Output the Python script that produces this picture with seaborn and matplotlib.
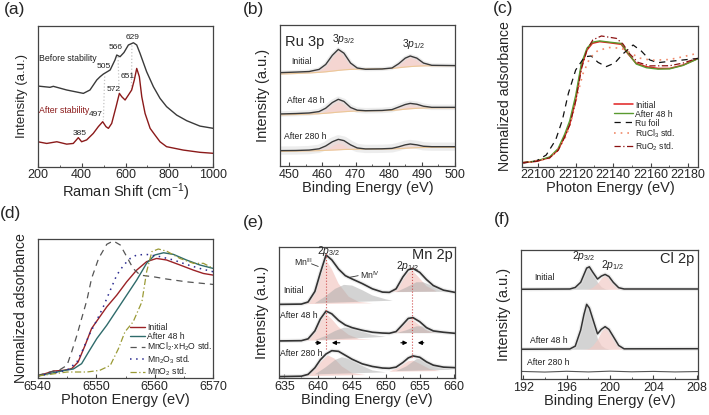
import matplotlib
matplotlib.use("Agg")
import matplotlib.pyplot as plt
from matplotlib.ticker import MultipleLocator, FormatStrFormatter
import seaborn as sns

sns.set_style("ticks")
plt.rcParams['font.family'] = ['Liberation Sans', 'DejaVu Sans']
plt.rcParams['mathtext.fontset'] = 'custom'
plt.rcParams['mathtext.rm'] = 'Liberation Sans'
plt.rcParams['mathtext.it'] = 'Liberation Sans:italic'

# ---------------- (a) Raman ----------------
a_before_x = [200, 256, 271, 332, 408, 438, 469, 484, 499, 530, 552, 560, 575, 593, 613, 636, 651, 666, 696, 727, 757, 787, 833, 879, 939, 1000]
a_before_y = [57.2, 56.3, 57.0, 54.4, 52.0, 54.4, 61.5, 63.8, 65.7, 68.6, 75.7, 79.2, 78.0, 81.0, 86.3, 87.9, 86.3, 80.4, 67.4, 56.7, 48.5, 42.6, 36.6, 32.6, 28.8, 27.2]
a_after_x = [200, 241, 287, 332, 362, 385, 400, 423, 453, 476, 496, 511, 522, 537, 557, 572, 583, 598, 613, 628, 640, 651, 663, 674, 689, 712, 734, 757, 787, 863, 939, 1000]
a_after_y = [17.7, 16.5, 17.7, 16.0, 16.5, 20.6, 17.7, 19.0, 23.6, 28.4, 31.9, 28.4, 27.2, 30.7, 42.6, 52.0, 49.6, 47.3, 50.8, 54.4, 61.5, 69.7, 63.8, 49.6, 37.8, 27.2, 22.5, 17.7, 14.2, 11.8, 10.2, 9.5]
a_peak_labels = ['629', '566', '505', '651', '572', '497', '385']
a_peak_x = [630, 554, 503, 610, 548, 464, 390]
a_peak_y = [91.5, 84.4, 71.4, 64.3, 54.8, 37.1, 23.2]
a_links = [[(505, 64), (499, 33)], [(566, 78), (571, 52)], [(629, 86), (627, 55)]]

# ---------------- (b) Ru 3p XPS ----------------
b_x = [447.2, 452, 456, 459, 461, 463, 464.8, 466.5, 468.5, 470.5, 473, 478, 481, 483, 485, 486.5, 488.5, 490.5, 493, 500]
b_env = {
    'Initial': [66.2, 66.6, 67.0, 68.5, 72.0, 78.5, 82.7, 80.0, 73.0, 69.5, 68.6, 68.8, 69.5, 72.5, 76.5, 78.0, 76.5, 73.0, 71.4, 71.2],
    'After 48 h': [36.9, 37.2, 37.6, 38.6, 41.0, 45.0, 47.3, 45.8, 41.5, 39.6, 39.2, 39.4, 40.0, 41.8, 43.6, 44.4, 43.8, 42.4, 41.6, 41.6],
    'After 280 h': [10.9, 11.0, 11.3, 12.2, 14.2, 17.2, 18.9, 18.0, 15.0, 12.8, 12.1, 12.2, 12.5, 13.6, 15.0, 15.6, 15.0, 14.0, 13.7, 13.7],
}
b_base = {
    'Initial': [65.2, 65.6, 66.0, 66.4, 66.8, 67.3, 67.8, 68.2, 68.5, 68.7, 68.8, 68.9, 69.2, 69.7, 70.2, 70.5, 70.8, 71.0, 71.1, 71.2],
    'After 48 h': [36.2, 36.5, 36.8, 37.1, 37.4, 37.8, 38.2, 38.5, 38.8, 39.0, 39.1, 39.2, 39.4, 39.8, 40.3, 40.6, 40.9, 41.1, 41.2, 41.3],
    'After 280 h': [10.3, 10.5, 10.7, 10.9, 11.1, 11.3, 11.5, 11.7, 11.8, 11.9, 12.0, 12.0, 12.1, 12.3, 12.6, 12.8, 13.0, 13.1, 13.2, 13.2],
}
b_label_pos = {'Initial': (450.5, 74), 'After 48 h': (449.2, 46.3), 'After 280 h': (448.5, 20.8)}
b_noise_lw = {'Initial': 3, 'After 48 h': 4, 'After 280 h': 6}

# ---------------- (c) Ru K-edge ----------------
c_x = [22091.5, 22099.1, 22106.2, 22110.7, 22114.2, 22116.9, 22120.1, 22123.1, 22126.1, 22129, 22132.9, 22138.2, 22144.4, 22148, 22152.4, 22157.8, 22164, 22170.2, 22177.3, 22185.3]
c_initial = [2.8, 3.8, 6.5, 11.8, 21.3, 30.0, 47.3, 70.9, 82.7, 87.5, 88.7, 87.9, 86.8, 80.0, 73.3, 70.9, 69.7, 69.7, 72.1, 76.8]
c_after48 = [2.9, 4.0, 6.9, 12.8, 23.0, 32.5, 50.5, 73.0, 84.0, 88.3, 89.2, 88.3, 87.4, 80.5, 72.8, 70.2, 69.2, 69.4, 71.8, 76.6]
c_rufoil_x = [22091.5, 22099, 22104.4, 22109.4, 22113, 22116.2, 22120.1, 22124.9, 22128.4, 22132, 22136.4, 22140.9, 22145.3, 22150.7, 22155.1, 22159.6, 22164, 22173.8, 22185.3]
c_rufoil = [2.5, 4.0, 8.3, 18.9, 33.1, 52.0, 68.6, 78.0, 78.5, 74.0, 71.0, 73.5, 80.0, 86.3, 82.0, 75.7, 73.8, 75.2, 76.8]
c_rucl3_x = [22091.5, 22106.2, 22111.6, 22115.1, 22117.8, 22120.8, 22124, 22127.6, 22132, 22138.2, 22144.4, 22148.9, 22154.2, 22160.4, 22170.2, 22177.3, 22185.3]
c_rucl3 = [2.5, 6.0, 14.0, 22.0, 33.0, 50.0, 66.0, 77.0, 82.5, 84.5, 84.0, 81.0, 77.0, 75.5, 76.0, 78.0, 80.5]
c_ruo2_x = [22091.5, 22099.1, 22106.2, 22110.7, 22114.2, 22116.9, 22120.1, 22123.1, 22126.1, 22129.3, 22133.8, 22141.8, 22145.3, 22148.9, 22153.3, 22159.6, 22170.2, 22177.3, 22185.3]
c_ruo2 = [2.8, 3.8, 6.3, 11.5, 21.0, 29.5, 46.5, 69.0, 83.0, 90.0, 92.7, 91.0, 87.0, 80.0, 74.0, 71.5, 71.6, 73.5, 77.0]

# ---------------- (d) Mn K-edge ----------------
d_init_x = [6540, 6542.7, 6544.4, 6545.8, 6546.9, 6548.1, 6549.2, 6550.4, 6551.8, 6553.5, 6555.2, 6556.9, 6558.6, 6560.3, 6562, 6564.3, 6566.6, 6568.3, 6570]
d_init = [1.4, 5.0, 5.5, 6.7, 11.5, 23.6, 35.6, 42.8, 51.2, 59.6, 69.2, 77.6, 83.7, 86.0, 84.9, 81.3, 77.6, 75.2, 74.0]
d_a48_x = [6540, 6544.4, 6546.1, 6547.5, 6548.7, 6550.1, 6551.8, 6553.5, 6555.2, 6556.9, 6558.6, 6560, 6561.5, 6563.2, 6565.4, 6567.7, 6570]
d_a48 = [1.4, 5.3, 6.5, 10.3, 18.8, 28.4, 38.0, 48.8, 59.6, 70.4, 82.5, 88.5, 90.1, 88.9, 84.9, 81.3, 78.8]
d_mncl2_x = [6540, 6542.1, 6543.8, 6545, 6545.8, 6546.7, 6547.5, 6548.4, 6549.2, 6550.4, 6551.8, 6552.9, 6554.1, 6555.2, 6556.3, 6557.5, 6559.8, 6562, 6565.4, 6570]
d_mncl2 = [1.9, 4.3, 6.0, 9.1, 18.8, 30.8, 42.8, 56.0, 71.6, 86.0, 96.2, 98.6, 95.7, 87.3, 78.8, 74.0, 72.8, 71.2, 69.2, 67.3]
d_mn2o3_x = [6540, 6545, 6546.7, 6547.8, 6548.9, 6550.1, 6551.2, 6552.4, 6553.5, 6554.7, 6555.8, 6556.9, 6558.6, 6560.9, 6563.2, 6565.4, 6567.7, 6570]
d_mn2o3 = [1.4, 5.5, 11.5, 21.2, 32.0, 41.6, 51.2, 63.2, 74.0, 81.3, 86.0, 88.5, 88.9, 87.3, 84.9, 81.7, 78.8, 76.4]
d_mno2_x = [6540, 6545, 6548.4, 6550.6, 6552.4, 6553.8, 6554.9, 6556.3, 6557.8, 6558.6, 6559.5, 6560.6, 6562, 6564.3, 6566.6, 6568.3, 6570]
d_mno2 = [1.4, 4.3, 4.3, 5.5, 9.1, 21.2, 33.2, 40.4, 54.8, 76.4, 90.9, 92.8, 91.3, 86.0, 82.5, 82.5, 78.8]

# ---------------- (e) Mn 2p XPS ----------------
e_x = [634.2, 637.5, 638.5, 639.5, 640.3, 641.15, 642, 643, 644, 645, 646.5, 648, 649.5, 650.5, 651.5, 652.5, 653.3, 654, 655, 656, 657, 658.5, 660.2]
e_env = {
    'Initial': [56.2, 56.4, 58.0, 66.0, 80.0, 93.7, 90.0, 83.0, 78.0, 75.5, 72.0, 68.0, 65.5, 65.3, 68.0, 77.0, 82.5, 83.5, 80.5, 75.0, 70.5, 67.0, 65.3],
    'After 48 h': [28.4, 28.6, 30.0, 36.0, 45.0, 51.1, 49.0, 44.0, 40.5, 38.5, 36.5, 35.0, 34.4, 34.2, 35.5, 41.0, 45.5, 46.1, 43.0, 38.5, 36.0, 35.0, 34.2],
    'After 280 h': [1.3, 1.6, 3.0, 8.0, 14.0, 18.5, 21.0, 20.5, 17.5, 14.5, 11.0, 9.0, 7.8, 7.6, 8.5, 12.0, 15.5, 17.0, 16.0, 12.5, 10.0, 8.5, 8.1],
}
# fitted components: (x list, y list) per spectrum, Mn(III) pink and Mn(IV) grey
e_mn3 = {
    'Initial': [([638, 639.5, 640.3, 641.15, 642, 643, 644.5, 646, 648], [56.4, 65, 77, 90, 83, 72, 62, 58, 57]),
                ([650.5, 652, 653.2, 653.9, 654.8, 656, 657.5], [65.5, 71, 80, 82, 77, 70, 66])],
    'After 48 h': [([638, 639.5, 640.3, 641.1, 642, 643, 644.5, 646, 648], [28.6, 35, 43, 49.5, 45, 39, 33, 30, 29.5]),
                   ([650.5, 652, 653.2, 653.8, 654.8, 656, 657.5], [34.3, 37.5, 43.5, 45, 41, 36.5, 34.5])],
    'After 280 h': [([637.5, 639, 640.3, 641.4, 642.4, 643.5, 645, 647], [1.6, 5, 12, 17.5, 15, 9, 4, 2.5]),
                    ([650.5, 652, 653.3, 654, 655, 656.5, 658], [5, 8.5, 13, 13.5, 11, 7, 5.5])],
}
e_mn4 = {
    'Initial': [([639.5, 641, 642.5, 643.8, 645, 646.5, 648, 650, 651], [57, 62, 68, 71, 70.5, 67, 63, 60, 59]),
                ([651.5, 653, 654.5, 655.5, 657, 658.5, 660], [65.5, 69, 73, 73, 70, 67, 65.8])],
    'After 48 h': [([639.5, 641, 642.5, 643.8, 645, 646.5, 648, 650], [29, 32, 36, 38.5, 38, 35.5, 33, 31.5]),
                   ([651.5, 653, 654.5, 655.5, 657, 658.5, 660], [34.3, 36.5, 39.5, 39.5, 37, 35, 34.3])],
    'After 280 h': [([639.5, 641, 642.5, 643.5, 644.8, 646.3, 648, 650], [3, 8, 14, 16, 14.5, 10, 6, 4.5]),
                    ([651.5, 653, 654.5, 655.2, 656.5, 658, 660], [5.5, 9, 14.5, 15, 11.5, 8, 6.5])],
}
e_label_pos = {'Initial': (634.9, 67), 'After 48 h': (634.4, 48), 'After 280 h': (634.4, 18.5)}

# ---------------- (f) Cl 2p XPS ----------------
f_x = [191.8, 196.3, 196.8, 197.3, 197.6, 197.85, 198.1, 198.4, 198.85, 199.2, 199.55, 199.9, 200.3, 200.8, 201.3, 208.1]
f_env = {
    'Initial': [69.6, 69.8, 71, 75, 81, 86, 87, 83, 77.5, 79.8, 81.1, 79.5, 75, 70.8, 69.8, 69.8],
    'After 48 h': [23.1, 23.3, 25.5, 38, 50, 57.9, 55, 47, 35, 38.5, 40.6, 38.5, 33, 26, 23.4, 23.5],
}
f_p32 = {
    'Initial': [69.6, 69.8, 71, 75, 81, 86, 87, 82, 75, 71.5, 70, 69.7, 69.6, 69.6, 69.6, 69.6],
    'After 48 h': [23.1, 23.3, 25.5, 38, 50, 57.9, 55, 46, 31, 26, 24, 23.3, 23.1, 23.1, 23.1, 23.1],
}
f_p12 = {
    'Initial': [69.6, 69.6, 69.6, 69.6, 69.6, 69.7, 70, 71.2, 74.5, 78.3, 80.9, 79.5, 75, 70.8, 69.8, 69.6],
    'After 48 h': [23.1, 23.1, 23.1, 23.1, 23.2, 23.4, 24, 26, 31, 37, 40.4, 38.5, 33, 26, 23.4, 23.1],
}
f_base = {'Initial': 69.6, 'After 48 h': 23.1}
f_flat_x = [191.8, 194, 196, 198, 200, 202, 204, 206, 208.1]
f_flat_y = [5.9, 5.4, 6.0, 5.5, 6.1, 5.6, 5.9, 5.5, 5.8]
f_label_pos = {'Initial': (192.8, 78.6), 'After 48 h': (192.4, 30.2), 'After 280 h': (192.2, 12.9)}

FRAME = '#444444'


def style(ax, xlim, major, minor, xlabel, ylabel, fmt=None, ysize=10.5):
    ax.set_xlim(*xlim)
    ax.set_ylim(0, 100)
    ax.set_yticks([])
    ax.xaxis.set_major_locator(MultipleLocator(major))
    ax.xaxis.set_minor_locator(MultipleLocator(minor))
    if fmt:
        ax.xaxis.set_major_formatter(FormatStrFormatter(fmt))
    ax.tick_params(axis='x', which='major', direction='in', length=3, width=0.8,
                   labelsize=9, pad=2, color=FRAME)
    ax.tick_params(axis='x', which='minor', direction='in', length=1.6, width=0.6, color=FRAME)
    for s in ax.spines.values():
        s.set_visible(True)
        s.set_color(FRAME)
        s.set_linewidth(0.9)
    ax.set_xlabel(xlabel, fontsize=10.5, labelpad=0)
    ax.set_ylabel(ylabel, fontsize=ysize, labelpad=7)


fig = plt.figure(figsize=(7.09, 4.15), dpi=100)
ax_a = fig.add_axes([0.0532, 0.5983, 0.2477, 0.3398])
ax_b = fig.add_axes([0.3949, 0.6000, 0.2468, 0.3398])
ax_c = fig.add_axes([0.7363, 0.5983, 0.2482, 0.3398])
ax_d = fig.add_axes([0.0532, 0.0892, 0.2477, 0.3349])
ax_e = fig.add_axes([0.3935, 0.0884, 0.2482, 0.3171])
ax_f = fig.add_axes([0.7348, 0.0867, 0.2496, 0.3108])

# (a)
for seg in a_links:
    ax_a.plot([seg[0][0], seg[1][0]], [seg[0][1], seg[1][1]], color='#c4c4c4', lw=0.9, ls=':')
sns.lineplot(x=a_before_x, y=a_before_y, ax=ax_a, color='#3a3a3a', lw=1.0)
sns.lineplot(x=a_after_x, y=a_after_y, ax=ax_a, color='#8b1a1a', lw=1.0)
for t, px, py in zip(a_peak_labels, a_peak_x, a_peak_y):
    ax_a.text(px, py, t, fontsize=6, ha='center', va='center', color='#222222')
ax_a.text(207, 76.8, 'Before stability', fontsize=6.3, va='center', color='#222222')
ax_a.text(207, 40.2, 'After stability', fontsize=6.3, va='center', color='#8b1a1a')
style(ax_a, (200, 1000), 200, 100, 'Raman Shift (cm$^{-1}$)', 'Intensity (a.u.)', ysize=9.5)

# (b)
for name in b_env:
    env, base = b_env[name], b_base[name]
    ax_b.fill_between(b_x, base, env, color='#f2cbc6', alpha=0.8, lw=0)
    sns.lineplot(x=b_x, y=env, ax=ax_b, color='#e2e2e2', lw=b_noise_lw[name], alpha=0.6)
    sns.lineplot(x=b_x, y=base, ax=ax_b, color='#ecc898', lw=0.8)
    sns.lineplot(x=b_x, y=env, ax=ax_b, color='#3a3a3a', lw=1.0)
    lx, ly = b_label_pos[name]
    ax_b.text(lx, ly, name, fontsize=6.2, va='center', color='#222222')
ax_b.text(448.7, 88, 'Ru 3p', fontsize=10.5, va='center')
ax_b.text(462.8, 90, r'3$\it{p}_{3/2}$', fontsize=7.5, va='center')
ax_b.text(483.9, 86.5, r'3$\it{p}_{1/2}$', fontsize=7.5, va='center')
style(ax_b, (447.2, 500), 10, 5, 'Binding Energy (eV)', 'Intensity (a.u.)')

# (c)
sns.lineplot(x=c_x, y=c_initial, ax=ax_c, color='#e02020', lw=1.1, label='Initial')
sns.lineplot(x=c_x, y=c_after48, ax=ax_c, color='#5a9a30', lw=1.0, label='After 48 h')
sns.lineplot(x=c_rufoil_x, y=c_rufoil, ax=ax_c, color='#111111', lw=0.9, ls=(0, (5, 4)), label='Ru foil')
sns.lineplot(x=c_rucl3_x, y=c_rucl3, ax=ax_c, color='#f08a6a', lw=1.2, ls=(0, (1, 3)), label='RuCl$_3$ std.')
sns.lineplot(x=c_ruo2_x, y=c_ruo2, ax=ax_c, color='#8b1010', lw=0.9, ls=(0, (5, 2, 1, 2)), label='RuO$_2$ std.')
ax_c.legend(loc='upper left', bbox_to_anchor=(0.5, 0.5), frameon=False, fontsize=6.2,
            handlelength=2.2, handletextpad=0.2, labelspacing=0.0, borderpad=0)
style(ax_c, (22091.5, 22185.3), 20, 10, 'Photon Energy (eV)', 'Normalized adsorbance', fmt='%d', ysize=10.2)

# (d)
sns.lineplot(x=d_init_x, y=d_init, ax=ax_d, color='#9b2226', lw=1.0, label='Initial')
sns.lineplot(x=d_a48_x, y=d_a48, ax=ax_d, color='#2f6b6b', lw=1.0, label='After 48 h')
sns.lineplot(x=d_mncl2_x, y=d_mncl2, ax=ax_d, color='#555555', lw=0.9, ls=(0, (5, 4)), label='MnCl$_2$·xH$_2$O std.')
sns.lineplot(x=d_mn2o3_x, y=d_mn2o3, ax=ax_d, color='#2a2a8f', lw=1.1, ls=(0, (1, 3)), label='Mn$_2$O$_3$ std.')
sns.lineplot(x=d_mno2_x, y=d_mno2, ax=ax_d, color='#9a9a35', lw=0.9, ls=(0, (5, 2, 1, 2)), label='MnO$_2$ std.')
ax_d.legend(loc='upper left', bbox_to_anchor=(0.5, 0.43), frameon=False, fontsize=6.2,
            handlelength=1.8, handletextpad=0.2, labelspacing=0.0, borderpad=0)
style(ax_d, (6540, 6570), 10, 5, 'Photon Energy (eV)', 'Normalized adsorbance', ysize=10.2)

# (e)
for name in e_env:
    for xs, ys in e_mn3[name]:
        ax_e.fill(xs, ys, color='#f4cdc8', alpha=0.75, lw=0)
    for xs, ys in e_mn4[name]:
        ax_e.fill(xs, ys, color='#a8a8a8', alpha=0.5, lw=0)
    sns.lineplot(x=e_x, y=e_env[name], ax=ax_e, color='#e2e2e2', lw=3, alpha=0.6)
    sns.lineplot(x=e_x, y=e_env[name], ax=ax_e, color='#333333', lw=1.2)
    lx, ly = e_label_pos[name]
    ax_e.text(lx, ly, name, fontsize=6.2, va='center', color='#222222')
ax_e.plot([641.15, 641.15], [22, 95], color='#d05050', lw=0.8, ls=':')
ax_e.plot([653.9, 653.9], [16, 85], color='#d05050', lw=0.8, ls=':')
for x0, x1 in [(639.2, 640.9), (643.6, 641.6), (651.8, 653.6), (656.0, 654.3)]:
    ax_e.annotate('', xy=(x1, 27), xytext=(x0, 27),
                  arrowprops=dict(arrowstyle='-|>', color='black', lw=0.8, mutation_scale=6))
ax_e.text(659.8, 94, 'Mn 2p', fontsize=10.5, ha='right', va='center')
ax_e.text(641.6, 96.5, r'2$\it{p}_{3/2}$', fontsize=7.5, ha='center', va='center')
ax_e.text(653.2, 85, r'2$\it{p}_{1/2}$', fontsize=7.5, ha='center', va='center')
ax_e.text(637.8, 88.0, r'Mn$^{\rm III}$', fontsize=6.3, ha='center', va='center')
ax_e.plot([639.0, 640.0], [87.0, 85.0], color='#333333', lw=0.6)
ax_e.text(646.1, 78.5, r'Mn$^{\rm IV}$', fontsize=6.3, ha='left', va='center')
ax_e.plot([644.4, 645.9], [76.5, 78.0], color='#333333', lw=0.6)
style(ax_e, (634.2, 660.2), 5, 2.5, 'Binding Energy (eV)', 'Intensity (a.u.)')

# (f)
for name in f_env:
    ax_f.fill_between(f_x, f_base[name], f_p32[name], color='#b0b0b0', alpha=0.55, lw=0)
    ax_f.fill_between(f_x, f_base[name], f_p12[name], color='#f2cbc6', alpha=0.7, lw=0)
    sns.lineplot(x=f_x, y=f_env[name], ax=ax_f, color='#e0e0e0', lw=3, alpha=0.6)
    sns.lineplot(x=f_x, y=f_env[name], ax=ax_f, color='#333333', lw=1.1)
sns.lineplot(x=f_flat_x, y=f_flat_y, ax=ax_f, color='#555555', lw=0.8)
for name, (lx, ly) in f_label_pos.items():
    ax_f.text(lx + 0.2, ly, name, fontsize=6.2, va='center', color='#222222')
ax_f.text(207.8, 93, 'Cl 2p', fontsize=10.5, ha='right', va='center')
ax_f.text(197.6, 95, r'2$\it{p}_{3/2}$', fontsize=7.5, ha='center', va='center')
ax_f.text(200.2, 88.5, r'2$\it{p}_{1/2}$', fontsize=7.5, ha='center', va='center')
style(ax_f, (191.8, 208.1), 4, 2, 'Binding Energy (eV)', 'Intensity (a.u.)')

# panel letters
for lab, x, y in [('(a)', 0.005, 0.995), ('(b)', 0.343, 0.995), ('(c)', 0.695, 0.998),
                  ('(d)', 0.0, 0.503), ('(e)', 0.343, 0.482), ('(f)', 0.697, 0.488)]:
    fig.text(x, y, lab, fontsize=12.5, ha='left', va='top')

fig.savefig('out.png', dpi=100)
